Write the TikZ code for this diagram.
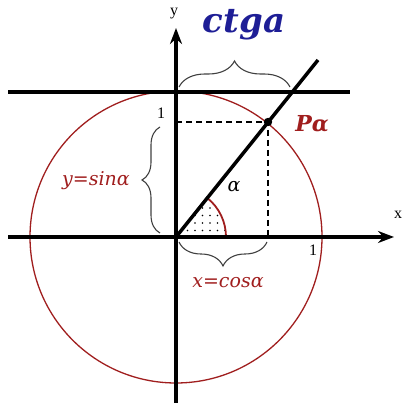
\documentclass[tikz,border=0pt]{standalone}
\usepackage{fontspec}
\setmainfont{Liberation Serif}
\newfontfamily\dvs{DejaVu Serif}
\usetikzlibrary{arrows.meta,decorations.pathreplacing,patterns.meta}
\definecolor{dred}{RGB}{160,30,30}
\definecolor{dblue}{RGB}{30,30,150}
\tikzset{
  axis/.style={line width=3.5pt,-{Stealth[length=16pt,width=12pt]}},
  thickline/.style={line width=3.5pt},
  dashline/.style={dashed,line width=1.2pt,dash pattern=on 6pt off 4pt},
  bracestyle/.style={draw=black!75,line width=1.1pt,decorate},
  redlabel/.style={text=dred,font=\dvs\fontsize{19}{19}\selectfont\itshape},
}
\begin{document}
\begin{tikzpicture}[x=1pt,y=1pt]
\useasboundingbox (0,0) rectangle (406,403);
\coordinate (O) at (176,166);
\coordinate (P) at (268,281);
\coordinate (E) at (318,343);
\coordinate (Px) at (268,166);
\coordinate (Py) at (176,281);
% dotted sector
\fill[pattern={Dots[distance=7.5pt,radius=0.9pt]}] (O) -- (226,166) arc[start angle=0,end angle=51.3,radius=50] -- cycle;
% circle
\draw[dred,line width=1.3pt] (O) circle[radius=146];
% small arc
\draw[dred,line width=1.8pt] (226,166) arc[start angle=0,end angle=51.3,radius=50];
% dashed
\draw[dashline] (Py) -- (P) -- (Px);
% axes
\coordinate (xs) at (8,166); \coordinate (xe) at (394,166);
\coordinate (ys) at (176,0); \coordinate (ye) at (176,375);
\draw[axis] (xs) -- (xe);
\draw[axis] (ys) -- (ye);
% top line
\coordinate (ts) at (8,311); \coordinate (te) at (350,311);
\draw[thickline] (ts) -- (te);
% radius line
\draw[thickline] (O) -- (E);
\fill (P) circle[radius=4.2];
% braces
\draw[bracestyle,decoration={brace,amplitude=26pt}] (179,316) -- (290,316);
\draw[bracestyle,decoration={brace,amplitude=18pt}] (160,170) -- (160,276);
\draw[bracestyle,decoration={brace,amplitude=24pt}] (267,161) -- (179,161);
% labels
\node[font=\fontsize{16}{16}\selectfont] (ly) at (174,389) {y};
\node[font=\fontsize{16}{16}\selectfont] (lx) at (398,188) {x};
\node[text=dblue,font=\dvs\fontsize{34}{34}\selectfont\bfseries\itshape] (ct) at (244,378) {ctga};
\node[font=\fontsize{16}{16}\selectfont] (one1) at (161,290) {1};
\node[font=\fontsize{16}{16}\selectfont] (one2) at (313,153) {1};
\node[text=dred,font=\dvs\fontsize{22}{22}\selectfont\bfseries\itshape] (pa) at (312,279) {Pα};
\node[font=\dvs\fontsize{19}{19}\selectfont\itshape] (al) at (234,216) {α};
\node[redlabel] (sn) at (96,222) {y=sinα};
\node[redlabel] (cs) at (228,120) {x=cosα};
\end{tikzpicture}
\end{document}
